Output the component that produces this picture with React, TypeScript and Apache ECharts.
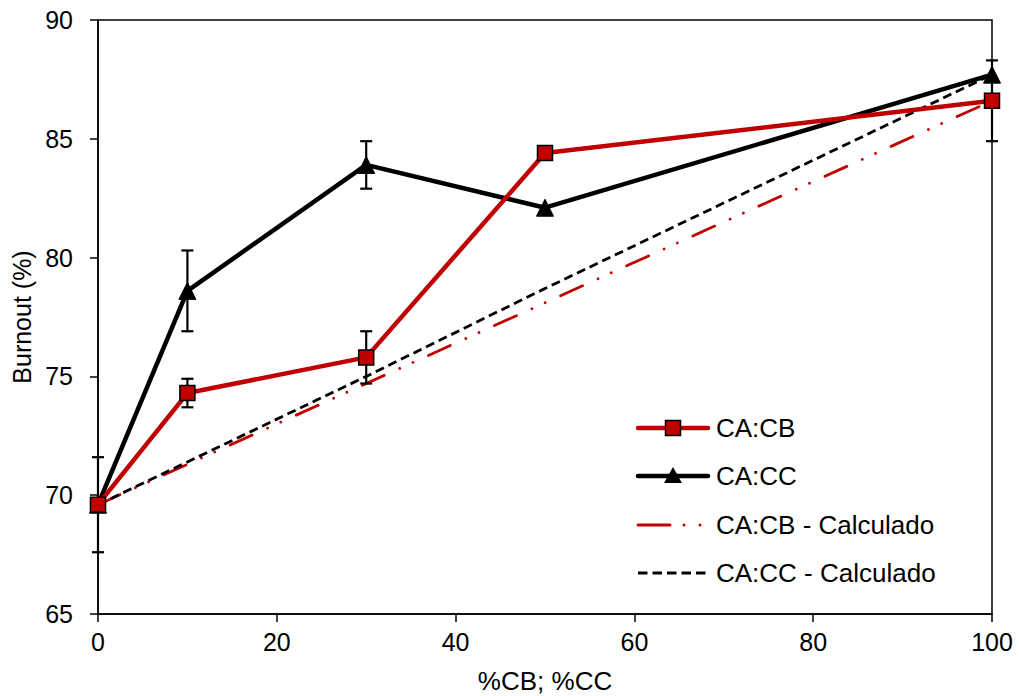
import React, { useEffect, useRef } from "react";
import * as echarts from "echarts";

const xValues = [0, 10, 30, 50, 100];
const cbValues = [69.6, 74.3, 75.8, 84.4, 86.6];
const ccValues = [69.6, 78.6, 83.9, 82.1, 87.7];
const cbCalc = [69.6, 71.3, 74.7, 78.1, 86.6];
const ccCalc = [69.6, 71.4, 75.0, 78.7, 87.7];
// error bars: [x, low, high]
const cbErr = [
  [0, 67.6, 71.6],
  [10, 73.7, 74.9],
  [30, 74.7, 76.9],
  [100, 84.9, 88.3],
];
const ccErr = [
  [10, 76.9, 80.3],
  [30, 82.9, 84.9],
];
const legendLabels = ["CA:CB", "CA:CC", "CA:CB - Calculado", "CA:CC - Calculado"];

const FONT = "'Liberation Sans', Arial, sans-serif";
const RED = "#C00000";
const CB_DASH = [24, 17, 0.01, 14.5, 0.01, 17];
const CC_DASH = [9, 5];

const pairs = (ys: number[]) => xValues.map((x, i) => [x, ys[i]]);

export default function App() {
  const ref = useRef<HTMLDivElement>(null);
  useEffect(() => {
    if (!ref.current) return;
    const chart = echarts.init(ref.current, undefined, { renderer: "svg" });
    const errRender = (params: any, api: any) => {
      const x = api.value(0);
      const lo = api.coord([x, api.value(1)]);
      const hi = api.coord([x, api.value(2)]);
      const w = 6;
      const st = { stroke: "#000", lineWidth: 2.2 };
      return {
        type: "group",
        children: [
          { type: "line", shape: { x1: lo[0], y1: lo[1], x2: hi[0], y2: hi[1] }, style: st },
          { type: "line", shape: { x1: lo[0] - w, y1: lo[1], x2: lo[0] + w, y2: lo[1] }, style: st },
          { type: "line", shape: { x1: hi[0] - w, y1: hi[1], x2: hi[0] + w, y2: hi[1] }, style: st },
        ],
      };
    };

    const lx0 = 638;
    const lx1 = 708;
    const mid = (lx0 + lx1) / 2;
    const rows = [428, 476, 525, 573];
    const legendGraphics: any[] = [
      { type: "line", shape: { x1: lx0, y1: rows[0], x2: lx1, y2: rows[0] }, style: { stroke: RED, lineWidth: 4.5, lineCap: "round" } },
      { type: "rect", shape: { x: mid - 7.5, y: rows[0] - 7.5, width: 15, height: 15 }, style: { fill: RED, stroke: "#000", lineWidth: 1.5 } },
      { type: "line", shape: { x1: lx0, y1: rows[1], x2: lx1, y2: rows[1] }, style: { stroke: "#000", lineWidth: 4.5, lineCap: "round" } },
      { type: "polygon", shape: { points: [[mid, rows[1] - 9], [mid - 9, rows[1] + 7], [mid + 9, rows[1] + 7]] }, style: { fill: "#000" } },
      { type: "line", shape: { x1: lx0, y1: rows[2], x2: lx1, y2: rows[2] }, style: { stroke: RED, lineWidth: 3, lineCap: "round", lineDash: [32, 14, 0.01, 16, 0.01, 30] } },
      { type: "line", shape: { x1: lx0, y1: rows[3], x2: lx1, y2: rows[3] }, style: { stroke: "#000", lineWidth: 3, lineDash: [9.5, 5] } },
      ...legendLabels.map((t, i) => ({
        type: "text",
        x: 716,
        y: rows[i],
        style: { text: t, font: `26px ${FONT}`, fill: "#000", verticalAlign: "middle", align: "left" },
      })),
    ];

    chart.setOption({
      animation: false,
      textStyle: { fontFamily: FONT },
      grid: {
        left: 98,
        right: 27,
        top: 20,
        bottom: 82,
        containLabel: false,
        outerBoundsMode: "none",
        show: true,
        borderColor: "#000",
        borderWidth: 1.5,
        backgroundColor: "transparent",
      },
      xAxis: {
        type: "value",
        min: 0,
        max: 100,
        interval: 20,
        name: "%CB; %CC",
        nameLocation: "middle",
        nameGap: 54,
        nameTextStyle: { fontSize: 26, color: "#000", fontFamily: FONT },
        axisLine: { show: true, lineStyle: { color: "#000", width: 1.5 } },
        axisTick: { show: true, length: 8, lineStyle: { color: "#000", width: 1.5 } },
        axisLabel: { fontSize: 25, color: "#000", margin: 15, fontFamily: FONT },
        splitLine: { show: false },
      },
      yAxis: {
        type: "value",
        min: 65,
        max: 90,
        interval: 5,
        name: "Burnout (%)",
        nameLocation: "middle",
        nameGap: 61,
        nameRotate: 90,
        nameTextStyle: { fontSize: 25, color: "#000", fontFamily: FONT },
        axisLine: { show: true, lineStyle: { color: "#000", width: 1.5 } },
        axisTick: { show: true, length: 8, lineStyle: { color: "#000", width: 1.5 } },
        axisLabel: { fontSize: 25, color: "#000", margin: 25, fontFamily: FONT },
        splitLine: { show: false },
      },
      graphic: legendGraphics,
      series: [
        {
          name: "CA:CB - Calculado",
          type: "line",
          data: pairs(cbCalc),
          symbol: "none",
          z: 2,
          lineStyle: { color: RED, width: 2.8, type: CB_DASH, cap: "round" },
        },
        {
          name: "CA:CC - Calculado",
          type: "line",
          data: pairs(ccCalc),
          symbol: "none",
          z: 2,
          lineStyle: { color: "#000", width: 2.8, type: CC_DASH },
        },
        {
          name: "errCB",
          type: "custom",
          data: cbErr,
          renderItem: errRender,
          z: 3,
          encode: { x: 0, y: [1, 2] },
        },
        {
          name: "errCC",
          type: "custom",
          data: ccErr,
          renderItem: errRender,
          z: 3,
          encode: { x: 0, y: [1, 2] },
        },
        {
          name: "CA:CC",
          type: "line",
          data: pairs(ccValues),
          symbol: "triangle",
          symbolSize: 17,
          z: 4,
          lineStyle: { color: "#000", width: 4.5 },
          itemStyle: { color: "#000", borderColor: "#000", borderWidth: 1 },
        },
        {
          name: "CA:CB",
          type: "line",
          data: pairs(cbValues),
          symbol: "rect",
          symbolSize: 15,
          z: 5,
          lineStyle: { color: RED, width: 4.5 },
          itemStyle: { color: RED, borderColor: "#000", borderWidth: 1.5 },
        },
      ],
    });
    return () => chart.dispose();
  }, []);
  return (
    <div
      ref={ref}
      style={{ position: "fixed", left: 0, top: 0, width: 1019, height: 696, background: "#fff" }}
    />
  );
}
